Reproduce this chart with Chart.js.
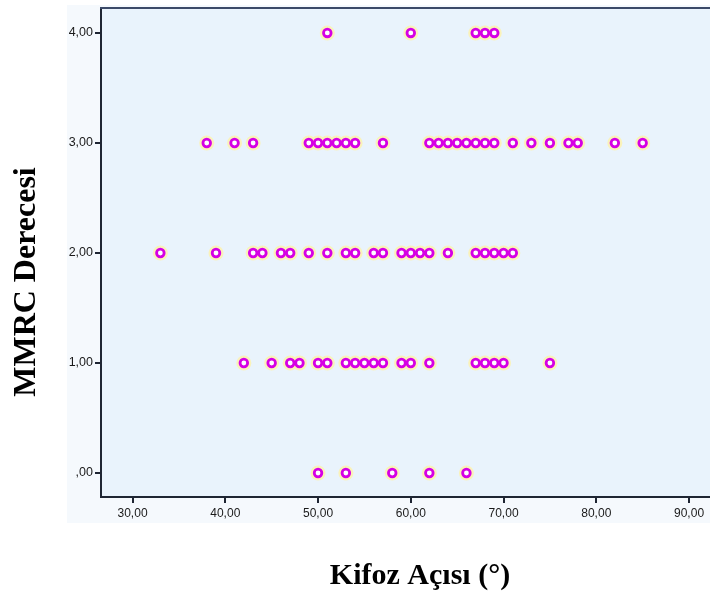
<!DOCTYPE html>
<html>
<head>
<meta charset="utf-8">
<script src="https://cdn.jsdelivr.net/npm/chart.js@4"></script>
<style>
  html, body { margin: 0; padding: 0; background: #ffffff; }
  #wrap { width: 710px; height: 597px; position: relative; }
</style>
</head>
<body>
<div id="wrap"><canvas id="c" width="710" height="597"></canvas></div>
<script>
// Kifoz açısı values for each MMRC grade
const mmrc0 = [50, 53, 58, 62, 66];
const mmrc1 = [42, 45, 47, 48, 50, 51, 53, 54, 55, 56, 57, 59, 60, 62, 67, 68, 69, 70, 75];
const mmrc2 = [33, 39, 43, 44, 46, 47, 49, 51, 53, 54, 56, 57, 59, 60, 61, 62, 64, 67, 68, 69, 70, 71];
const mmrc3 = [38, 41, 43, 49, 50, 51, 52, 53, 54, 57, 62, 63, 64, 65, 66, 67, 68, 69, 71, 73, 75, 77, 78, 82, 85];
const mmrc4 = [51, 60, 67, 68, 69];
const grades = [0, 1, 2, 3, 4];

const xTickValues = [30, 40, 50, 60, 70, 80, 90];
const xTickLabels = ["30,00", "40,00", "50,00", "60,00", "70,00", "80,00", "90,00"];
const yTickValues = [0, 1, 2, 3, 4];
const yTickLabels = [",00", "1,00", "2,00", "3,00", "4,00"];

const xTitle = "Kifoz Açısı (°)";
const yTitle = "MMRC Derecesi";

const groups = [mmrc0, mmrc1, mmrc2, mmrc3, mmrc4];
const points = [];
groups.forEach((arr, i) => arr.forEach(v => points.push({ x: v, y: grades[i] })));

const bgPlugin = {
  id: 'bg',
  beforeDraw(chart) {
    const ctx = chart.ctx, a = chart.chartArea;
    ctx.save();
    ctx.fillStyle = '#ffffff';
    ctx.fillRect(0, 0, chart.width, chart.height);
    ctx.fillStyle = '#f5f9fd';
    ctx.fillRect(67, 5, chart.width - 67, 518);
    ctx.fillStyle = '#e9f3fc';
    ctx.fillRect(a.left, a.top, a.right - a.left, a.bottom - a.top);
    ctx.restore();
  },
  afterDraw(chart) {
    const ctx = chart.ctx, a = chart.chartArea;
    ctx.save();
    // top frame line
    ctx.strokeStyle = '#3b4a68';
    ctx.lineWidth = 2;
    ctx.beginPath();
    ctx.moveTo(a.left - 1, a.top);
    ctx.lineTo(a.right, a.top);
    ctx.stroke();
    // axis titles
    ctx.fillStyle = '#000000';
    ctx.textAlign = 'center';
    ctx.textBaseline = 'alphabetic';
    ctx.font = 'bold 30px "Liberation Serif", "Times New Roman", serif';
    ctx.fillText(xTitle, 420, 584);
    ctx.font = 'bold 32px "Liberation Serif", "Times New Roman", serif';
    ctx.translate(35, 282);
    ctx.rotate(-Math.PI / 2);
    ctx.fillText(yTitle, 0, 0);
    ctx.restore();
  }
};

new Chart(document.getElementById('c'), {
  type: 'scatter',
  data: {
    datasets: [
      {
        data: points,
        order: 0,
        pointRadius: 3.8,
        pointHoverRadius: 3.8,
        pointBorderWidth: 2.8,
        pointBackgroundColor: '#ffffff',
        pointBorderColor: '#d600e4'
      },
      {
        data: points,
        order: 1,
        pointRadius: 7.5,
        pointHoverRadius: 7.5,
        pointBorderWidth: 0,
        pointBackgroundColor: 'rgba(252, 242, 178, 0.9)',
        pointBorderColor: 'rgba(0,0,0,0)'
      }
    ]
  },
  options: {
    responsive: false,
    animation: false,
    events: [],
    layout: { autoPadding: false, padding: { top: 8, right: 0, left: 0, bottom: 0 } },
    plugins: {
      legend: { display: false },
      tooltip: { enabled: false }
    },
    scales: {
      x: {
        type: 'linear',
        min: 26.6,
        max: 92.26,
        afterBuildTicks(scale) { scale.ticks = xTickValues.map(v => ({ value: v })); },
        afterFit(scale) { scale.height = 100; scale.paddingLeft = 0; scale.paddingRight = 0; },
        ticks: {
          autoSkip: false,
          maxRotation: 0,
          padding: 3,
          color: '#1a1a1a',
          font: { family: '"Liberation Sans", Arial, sans-serif', size: 12 },
          callback(v) { const i = xTickValues.indexOf(v); return i >= 0 ? xTickLabels[i] : ''; }
        },
        grid: { drawOnChartArea: false, drawTicks: true, tickLength: 6, color: '#1e2533', lineWidth: 2 },
        border: { display: true, color: '#1e2533', width: 2 }
      },
      y: {
        type: 'linear',
        min: -0.218,
        max: 4.227,
        afterBuildTicks(scale) { scale.ticks = yTickValues.map(v => ({ value: v })); },
        afterFit(scale) { scale.width = 101; scale.paddingTop = 0; scale.paddingBottom = 0; },
        ticks: {
          autoSkip: false,
          padding: 2,
          color: '#1a1a1a',
          font: { family: '"Liberation Sans", Arial, sans-serif', size: 12.5 },
          callback(v) { const i = yTickValues.indexOf(v); return i >= 0 ? yTickLabels[i] : ''; }
        },
        grid: { drawOnChartArea: false, drawTicks: true, tickLength: 6, color: '#1e2533', lineWidth: 2 },
        border: { display: true, color: '#1e2533', width: 2 }
      }
    }
  },
  plugins: [bgPlugin]
});
</script>
</body>
</html>
